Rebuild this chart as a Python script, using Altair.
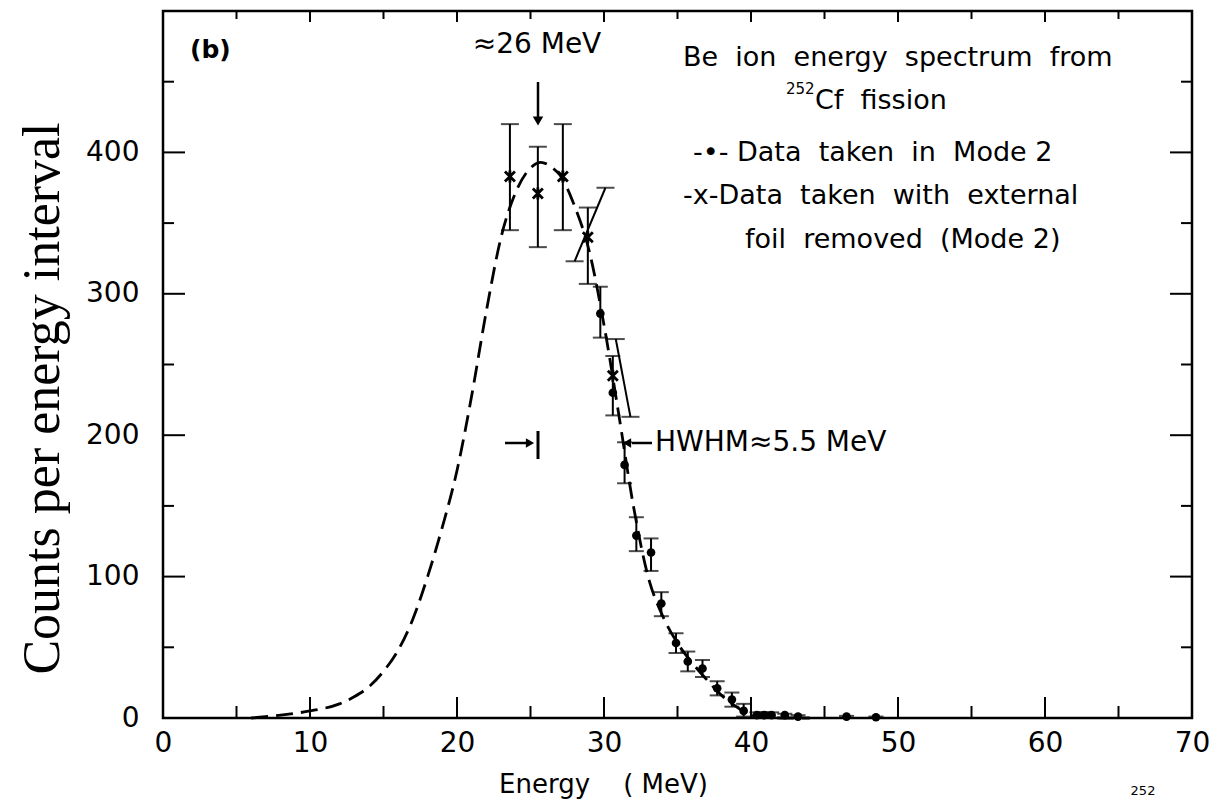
import altair as alt
import pandas as pd

# ---------------- data ----------------
curve_e = [6, 8, 10, 12, 13, 14, 15, 16, 17, 18, 19, 20, 21, 22, 23, 24, 25, 25.7,
           26.5, 27, 28, 29, 30, 31, 32, 33, 34, 35, 36, 37, 38, 39, 40, 41, 42, 44]
curve_c = [0, 2, 5, 10, 15, 22, 33, 48, 70, 100, 135, 175, 228, 288, 340, 372, 389, 393,
           389, 384, 362, 330, 278, 215, 150, 100, 72, 53, 39, 27, 16, 8, 2, 0.5, 0, 0]

dot_e = [29.75, 30.6, 31.4, 32.2, 33.2, 33.9, 34.9, 35.7, 36.7, 37.7, 38.7, 39.5,
         40.4, 40.9, 41.4, 42.3, 43.2, 46.5, 48.5]
dot_c = [286, 230, 179, 129, 117, 81, 53, 40, 35, 21, 13, 5, 2, 2, 2, 2, 1, 1, 0.5]
dot_lo = [269, 214, 166, 118, 104, 72, 46, 33, 29, 16, 8, 1, 0, 0, 0, 0, 0, 0, 0]
dot_hi = [305, 256, 195, 142, 127, 89, 60, 47, 41, 26, 18, 10, 4, 4, 4, 3, 2, 1.5, 1]

cross_e = [23.6, 25.5, 27.2, 28.9, 30.6]
cross_c = [383, 371, 383, 340, 242]
cross_lo = [345, 333, 345, 307, None]
cross_hi = [420, 404, 420, 361, None]

# slanted error bars drawn on the crosses near 29-31 MeV
slant_e1 = [28.0, 31.8]
slant_c1 = [323, 213]
slant_e2 = [30.1, 30.8]
slant_c2 = [375, 268]

x_major = [0, 10, 20, 30, 40, 50, 60, 70]
x_minor = [5, 15, 25, 35, 45, 55, 65]
y_major = [0, 100, 200, 300, 400, 500]
y_minor = [50, 150, 250, 350, 450]
y_labels = [0, 100, 200, 300, 400]

# ---------------- layout ----------------
W, H = 1029, 707
OX, OY = 163, 11  # plot origin in page pixels
FONT = "DejaVu Sans"
SP = " \u00a0"  # wide word gap
xs = alt.Scale(domain=[0, 70], nice=False, zero=False)
ys = alt.Scale(domain=[0, 500], nice=False)

AX = alt.Axis(
    values=x_major, ticks=False, domain=False, grid=False, labelFont=FONT,
    labelFontSize=28, labelColor="black", labelPadding=11,
    title="Energy" + SP + SP + "(\u00a0MeV)",
    titleFont=FONT, titleFontSize=26, titleFontWeight="normal", titleColor="black",
    titlePadding=14, titleX=603 - OX, titleAlign="center", labelFlush=False)
AY = alt.Axis(
    values=y_labels, ticks=False, domain=False, grid=False, labelFont=FONT,
    labelFontSize=28, labelColor="black", labelPadding=24,
    title="Counts per energy interval", titleFont="Liberation Serif",
    titleFontSize=52, titleFontWeight="normal", titleColor="black",
    titleAngle=-90, titleX=42 - OX, titleY=398 - OY, titleAlign="center",
    titleBaseline="middle")

X = lambda f: alt.X(f, type="quantitative", scale=xs, axis=AX)
Y = lambda f: alt.Y(f, type="quantitative", scale=ys, axis=AY)

one = pd.DataFrame({"k": [0]})


def rules_x(vals, y0, y1):
    return alt.Chart(pd.DataFrame({"v": vals})).mark_rule(color="black", strokeWidth=2).encode(
        x=X("v"), y=alt.value(y0), y2=alt.value(y1))


def rules_y(vals, x0, x1):
    return alt.Chart(pd.DataFrame({"v": vals})).mark_rule(color="black", strokeWidth=2).encode(
        y=Y("v"), x=alt.value(x0), x2=alt.value(x1))


ticks = [
    rules_x(x_major, H, H - 21), rules_x(x_minor, H, H - 12),
    rules_x(x_major, 0, 11), rules_x(x_minor, 0, 8),
    rules_y(y_major, 0, 22), rules_y(y_minor, 0, 11),
    rules_y(y_major, W, W - 22), rules_y(y_minor, W, W - 11),
]

curve = alt.Chart(pd.DataFrame({"e": curve_e, "c": curve_c})).mark_line(
    color="black", strokeWidth=2.8, strokeDash=[17, 8], interpolate="monotone"
).encode(x=X("e"), y=Y("c"))

dots = pd.DataFrame({"e": dot_e, "c": dot_c, "lo": dot_lo, "hi": dot_hi})
dot_bar = alt.Chart(dots).mark_rule(color="black", strokeWidth=2).encode(
    x=X("e"), y=Y("lo"), y2="hi")
dot_cap_lo = alt.Chart(dots).mark_tick(color="black", orient="horizontal", size=15, thickness=2).encode(
    x=X("e"), y=Y("lo"))
dot_cap_hi = alt.Chart(dots).mark_tick(color="black", orient="horizontal", size=15, thickness=2).encode(
    x=X("e"), y=Y("hi"))
dot_pts = alt.Chart(dots).mark_circle(color="black", size=75, opacity=1).encode(
    x=X("e"), y=Y("c"))

crosses = pd.DataFrame({"e": cross_e, "c": cross_c, "lo": cross_lo, "hi": cross_hi})
cr_ok = crosses.dropna()
cr_bar = alt.Chart(cr_ok).mark_rule(color="black", strokeWidth=2).encode(
    x=X("e"), y=Y("lo"), y2="hi")
cr_cap_lo = alt.Chart(cr_ok).mark_tick(color="black", orient="horizontal", size=18, thickness=2).encode(
    x=X("e"), y=Y("lo"))
cr_cap_hi = alt.Chart(cr_ok).mark_tick(color="black", orient="horizontal", size=18, thickness=2).encode(
    x=X("e"), y=Y("hi"))
XPATH = "M-1,-1L1,1M1,-1L-1,1M0,-1.2L0,1.2"
cr_pts = alt.Chart(crosses).mark_point(
    shape=XPATH, color="black", strokeWidth=2.8, size=100, filled=False, opacity=1
).encode(x=X("e"), y=Y("c"))

slants = pd.DataFrame({"e1": slant_e1, "c1": slant_c1, "e2": slant_e2, "c2": slant_c2})
sl_bar = alt.Chart(slants).mark_rule(color="black", strokeWidth=2).encode(
    x=X("e1"), y=Y("c1"), x2="e2", y2="c2")
sl_cap1 = alt.Chart(slants).mark_tick(color="black", orient="horizontal", size=18, thickness=2).encode(
    x=X("e1"), y=Y("c1"))
sl_cap2 = alt.Chart(slants).mark_tick(color="black", orient="horizontal", size=18, thickness=2).encode(
    x=X("e2"), y=Y("c2"))

# ---------------- annotations ----------------


def txt(s, px, py, size=27, align="left", weight="normal"):
    return alt.Chart(pd.DataFrame({"t": [s]})).mark_text(
        font=FONT, fontSize=size, align=align, baseline="middle", color="black",
        fontWeight=weight
    ).encode(x=alt.value(px - OX), y=alt.value(py - OY), text="t:N")


def seg(x0, y0, x1, y1, w=2.5):
    return alt.Chart(one).mark_rule(color="black", strokeWidth=w).encode(
        x=alt.value(x0 - OX), y=alt.value(y0 - OY), x2=alt.value(x1 - OX), y2=alt.value(y1 - OY))


def head(px, py, shape, size=110):
    return alt.Chart(one).mark_point(shape=shape, filled=True, color="black", size=size, opacity=1).encode(
        x=alt.value(px - OX), y=alt.value(py - OY))


def words(*w):
    return SP.join(w)


notes = [
    txt("(b)", 190, 50, 25, weight="bold"),
    txt("≈26 MeV", 537, 45, 28, align="center"),
    seg(538, 82, 538, 118),
    head(538, 121, "triangle-down"),
    txt(words("Be", "ion", "energy", "spectrum", "from"), 683, 58),
    txt("252", 786, 89, 15),
    txt(words("Cf", "fission"), 815, 101),
    txt("-•- " + words("Data", "taken", "in", "Mode 2"), 693, 153),
    txt("-x-" + words("Data", "taken", "with", "external"), 683, 196),
    txt(words("foil", "removed", "(Mode 2)"), 745, 240),
    seg(505, 443, 526, 443),
    head(530, 443, "triangle-right", 90),
    seg(538, 431, 538, 459, 3),
    seg(652, 443, 632, 443),
    head(627, 443, "triangle-left", 90),
    txt("HWHM≈5.5 MeV", 655, 443, 28),
    txt("252", 1143, 791, 13, align="center"),
]

chart = alt.layer(*ticks, curve, dot_bar, dot_cap_lo, dot_cap_hi, dot_pts,
                  cr_bar, cr_cap_lo, cr_cap_hi, sl_bar, sl_cap1, sl_cap2, cr_pts,
                  *notes).properties(
    width=W, height=H,
    autosize=alt.AutoSizeParams(type="none"),
    padding={"left": OX, "top": OY, "right": 1211 - OX - W, "bottom": 801 - OY - H},
    background="white",
).configure_view(stroke="black", strokeWidth=2.5)

chart.save("out.html", embed_options={"renderer": "svg", "actions": False})
